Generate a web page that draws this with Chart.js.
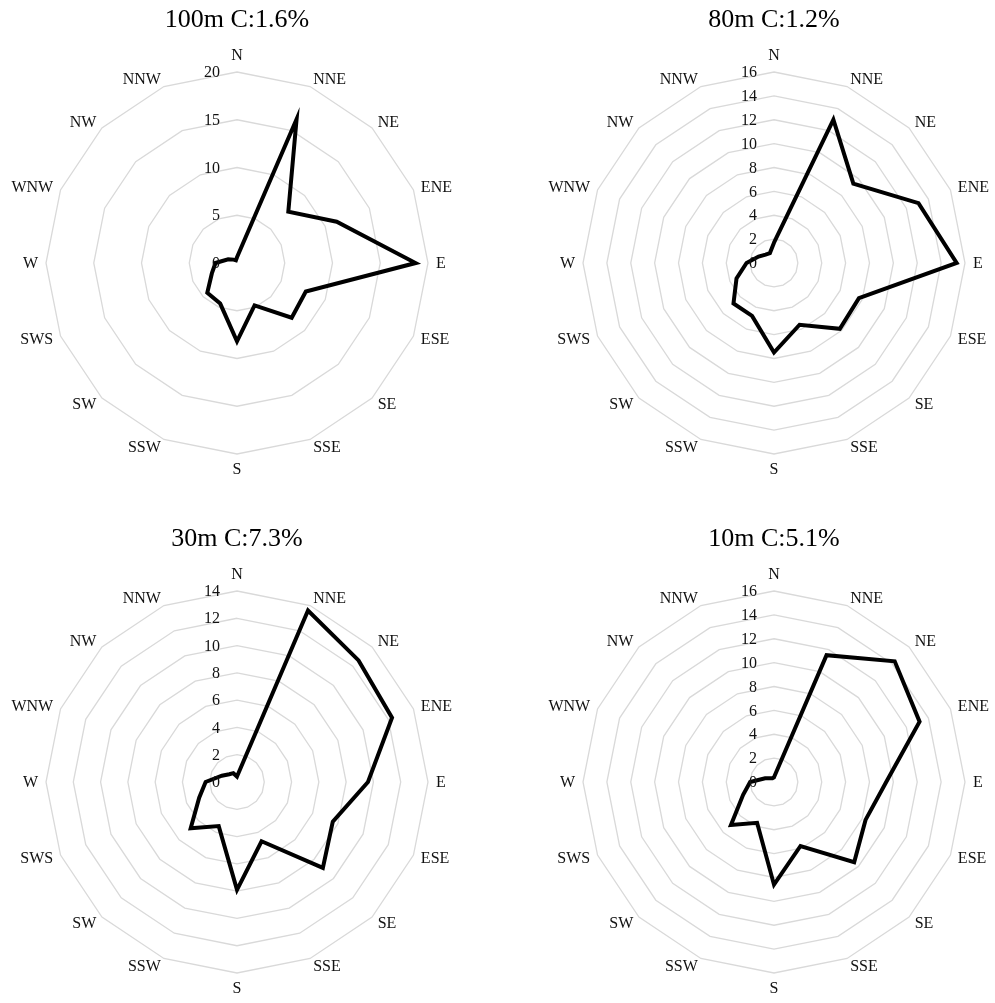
<!DOCTYPE html>
<html>
<head>
<meta charset="utf-8">
<script src="https://cdn.jsdelivr.net/npm/chart.js@4.4.1/dist/chart.umd.min.js"></script>
<style>
  html, body { margin: 0; padding: 0; background: #ffffff; overflow: hidden; }
  #wrap { position: relative; width: 995px; height: 1003px; }
  canvas { position: absolute; }
</style>
</head>
<body>
<div id="wrap">
  <canvas id="c1" width="475" height="519" style="left:0px;top:0px;"></canvas>
  <canvas id="c2" width="458" height="519" style="left:537px;top:0px;"></canvas>
  <canvas id="c3" width="475" height="484" style="left:0px;top:519px;"></canvas>
  <canvas id="c4" width="458" height="484" style="left:537px;top:519px;"></canvas>
</div>
<script>
// Wind directions (categories)
const directions = ['N','NNE','NE','ENE','E','ESE','SE','SSE','S','SSW','SW','SWS','W','WNW','NW','NNW'];

// Series values (frequency %)
const h100 = [0.6, 16.3, 7.6, 11.3, 18.7, 7.8, 8.1, 4.8, 8.2, 4.6, 4.4, 2.85, 2.25, 1.0, 0.5, 0.3];
const h80  = [1.7, 13.0, 9.4, 13.1, 15.3, 7.7, 7.8, 5.6, 7.5, 4.8, 4.8, 3.4, 2.3, 1.4, 1.0, 0.9];
const h30  = [0.4, 13.6, 12.6, 12.3, 9.6, 7.6, 8.9, 4.7, 7.9, 3.5, 4.8, 3.0, 2.3, 1.2, 0.8, 0.7];
const h10  = [0.4, 11.5, 14.3, 13.2, 9.4, 8.3, 9.5, 5.8, 8.6, 3.7, 5.1, 2.8, 2.0, 0.8, 0.45, 0.35];

// Titles
const titles = ['100m C:1.6%', '80m C:1.2%', '30m C:7.3%', '10m C:5.1%'];

// Tick labels of the radial axes
const ticks100 = [0, 5, 10, 15, 20];
const ticks80  = [0, 2, 4, 6, 8, 10, 12, 14, 16];
const ticks30  = [0, 2, 4, 6, 8, 10, 12, 14];
const ticks10  = [0, 2, 4, 6, 8, 10, 12, 14, 16];

const FONT = '"Liberation Serif", "Times New Roman", serif';
const TEXT_COLOR = '#111111';

const labelPlugin = {
  id: 'excelLabels',
  afterDraw(chart, args, opts) {
    const scale = chart.scales.r;
    const ctx = chart.ctx;
    ctx.save();
    ctx.fillStyle = TEXT_COLOR;
    ctx.font = '16px ' + FONT;
    // point labels
    const n = chart.data.labels.length;
    for (let i = 0; i < n; i++) {
      const p = scale.getPointPosition(i, scale.drawingArea + 8);
      const dx = p.x - scale.xCenter;
      const dy = p.y - scale.yCenter;
      let y = p.y;
      if (Math.abs(dx) < 1) {
        ctx.textAlign = 'center';
        ctx.textBaseline = dy < 0 ? 'bottom' : 'top';
      } else {
        ctx.textAlign = dx > 0 ? 'left' : 'right';
        ctx.textBaseline = 'middle';
        y = p.y + 1;
      }
      ctx.fillText(chart.data.labels[i], p.x, y);
    }
    // tick labels, right-aligned left of the north spoke
    ctx.textAlign = 'right';
    ctx.textBaseline = 'middle';
    opts.ticks.forEach(v => {
      const pt = scale.getPointPositionForValue(0, v);
      ctx.fillText(String(v), scale.xCenter - 17, pt.y + 1);
    });
    ctx.restore();
  }
};

function makeChart(id, title, values, tickList, right, bottom) {
  const max = tickList[tickList.length - 1];
  const step = tickList[1] - tickList[0];
  return new Chart(document.getElementById(id), {
    type: 'radar',
    data: {
      labels: directions,
      datasets: [{
        data: values,
        borderColor: '#000000',
        borderWidth: 4,
        pointRadius: 0,
        pointHoverRadius: 0,
        fill: false,
        tension: 0,
        borderJoinStyle: 'miter'
      }]
    },
    options: {
      responsive: false,
      animation: false,
      events: [],
      layout: { padding: { left: 46, right: right, top: 0, bottom: bottom } },
      plugins: {
        legend: { display: false },
        tooltip: { enabled: false },
        title: {
          display: true,
          text: title,
          color: '#000000',
          font: { family: FONT, size: 26, weight: 'normal', lineHeight: 1.2 },
          padding: { top: 5, bottom: 36.6 }
        },
        excelLabels: { ticks: tickList }
      },
      scales: {
        r: {
          min: 0,
          max: max,
          ticks: { stepSize: step, display: false },
          grid: { color: '#d9d9d9', lineWidth: 1.3, circular: false },
          angleLines: { display: false },
          pointLabels: { display: false }
        }
      }
    },
    plugins: [labelPlugin]
  });
}

makeChart('c1', titles[0], h100, ticks100, 47, 64);
makeChart('c2', titles[1], h80, ticks80, 30, 64);
makeChart('c3', titles[2], h30, ticks30, 47, 29);
makeChart('c4', titles[3], h10, ticks10, 30, 29);
</script>
</body>
</html>
